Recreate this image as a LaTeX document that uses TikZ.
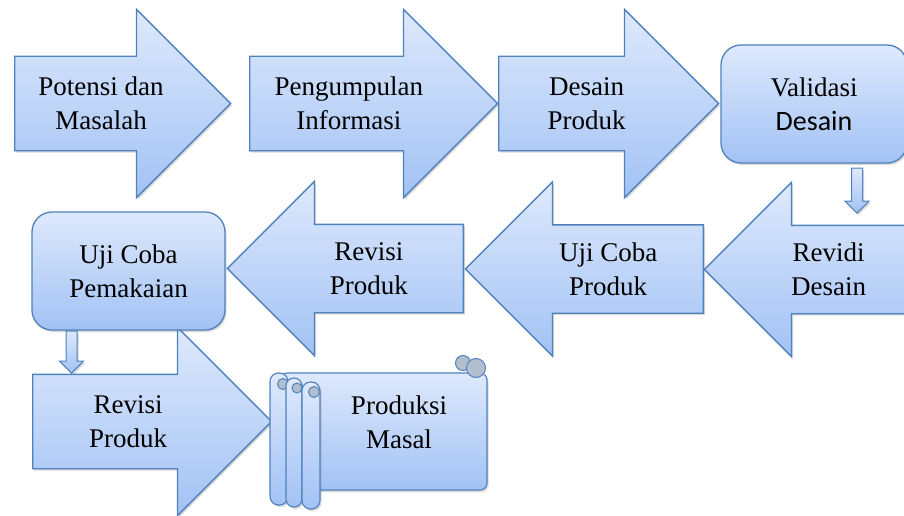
\documentclass[tikz,border=0pt]{standalone}
\usepackage{fontspec}
\setmainfont{Liberation Serif}
\setsansfont{Carlito}
\usetikzlibrary{shapes.arrows,shadows,calc,positioning}
\definecolor{boxLine}{RGB}{79,129,189}
\definecolor{fillTop}{RGB}{222,233,252}
\definecolor{fillBot}{RGB}{162,194,244}
\definecolor{curlGrey}{RGB}{178,190,206}

\begin{document}
\begin{tikzpicture}[x=1pt,y=-1pt,font=\fontsize{27}{34}\selectfont]

      \tikzset{blk/.style={draw=boxLine,line width=1.3pt,top color=fillTop,bottom color=fillBot,
          drop shadow={shadow xshift=1.5pt,shadow yshift=-2pt,opacity=.3}}}
      \tikzset{rarr/.style={blk,single arrow,single arrow head extend=47pt,inner xsep=0pt,inner ysep=46.5pt,anchor=tail}}
      \tikzset{larr/.style={blk,single arrow,shape border rotate=180,single arrow head extend=43pt,inner xsep=0pt,inner ysep=43.5pt,anchor=tail}}
      \tikzset{darr/.style={blk,single arrow,shape border rotate=270,single arrow head extend=6.5pt,inner sep=5pt,anchor=tail,line width=1pt}}
      \tikzset{rbox/.style={blk,rectangle,rounded corners=20pt,align=center,minimum height=118pt}}
      \tikzset{lbl/.style={align=center,inner sep=0pt}}
      \tikzset{curl/.style={draw=boxLine,line width=1pt,fill=curlGrey}}
      \useasboundingbox (0,0) rectangle (904,516);

      \node[rarr,minimum height=216pt] (pot) at (14,103.5) {};
      \node[rarr,minimum height=248pt] (peng) at (249,103.5) {};
      \node[rarr,minimum height=220pt] (des) at (498,103.5) {};
      \node[rbox,minimum width=186pt] (valid) at (814,104) {Validasi\\{\sffamily\fontsize{28}{34}\selectfont Desain}};

      \node[larr,minimum height=207pt] (revd) at (912,269.5) {};
      \node[larr,minimum height=238pt] (ujip) at (704,269) {};
      \node[larr,minimum height=236pt] (rev1) at (464,268.5) {};

      \node[rarr,minimum height=239pt] (rev2) at (32,421.5) {};
      \node[rbox,minimum width=193pt] (ujipk) at (128.5,271) {Uji Coba\\Pemakaian};

      \node[darr,minimum height=45pt] (down1) at ([xshift=43pt,yshift=-4pt]valid.south) {};
      \node[darr,minimum height=42pt] (down2) at ([xshift=-57pt]ujipk.south) {};

      \node[lbl] (potT) at ($(pot.tail)!.4!(pot.tip)$) {Potensi dan\\Masalah};
      \node[lbl] (pengT) at ($(peng.tail)!.4!(peng.tip)$) {Pengumpulan\\Informasi};
      \node[lbl] (desT) at ($(des.tail)!.4!(des.tip)$) {Desain\\Produk};
      \node[lbl] (revdT) at ($(revd.tail)!.4!(revd.tip)$) {Revidi\\Desain};
      \node[lbl] (ujipT) at ($(ujip.tail)!.4!(ujip.tip)$) {Uji Coba\\Produk};
      \node[lbl] (rev1T) at ($(rev1.tail)!.4!(rev1.tip)$) {Revisi\\Produk};
      \node[lbl] (rev2T) at ($(rev2.tail)!.4!(rev2.tip)$) {Revisi\\Produk};

      \draw[blk,line width=1.1pt,rounded corners=7pt] (280,373) rectangle (487,490);
      \draw[curl] (463,363) circle (7.5);
      \draw[curl] (476,368) circle (9.5);
      \draw[blk,line width=1.1pt,rounded corners=8.5pt] (270,373) rectangle (288,505);
      \draw[curl] (283,384) circle (5.5);
      \draw[blk,line width=1.1pt,rounded corners=8pt] (286,378) rectangle (302,507);
      \draw[curl] (297,388) circle (5);
      \draw[blk,line width=1.1pt,rounded corners=8.5pt] (302,382) rectangle (320,509);
      \draw[curl] (314,392) circle (5.5);
      \node[lbl] (prodT) at (399,422) {Produksi\\Masal};
    \end{tikzpicture}
\end{document}
